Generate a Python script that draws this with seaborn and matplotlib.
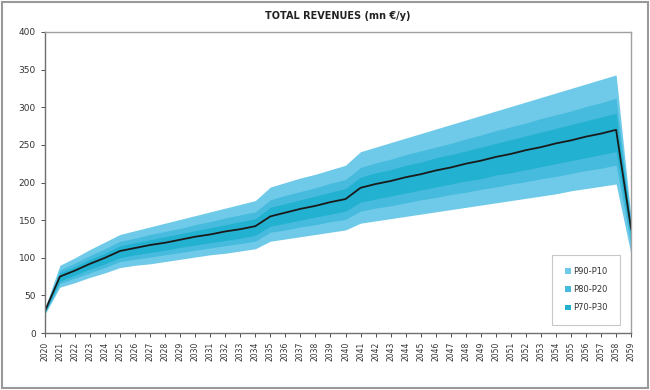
# Total revenues fan chart (P90-P10 / P80-P20 / P70-P30 bands)
import numpy as np
import pandas as pd
import matplotlib.pyplot as plt
import seaborn as sns
from matplotlib.patches import Patch, Rectangle

# ── Data (mn €/y) ─────────────────────────────
years = list(range(2020, 2060))

central = [29, 75, 83, 92, 100, 109, 113, 117, 120, 124,
           128, 131, 135, 138, 142, 155, 160, 165, 169, 174,
           178, 193, 198, 202, 207, 211, 216, 220, 225, 229,
           234, 238, 243, 247, 252, 256, 261, 265, 270, 138]

p90 = [33, 90, 100, 111, 121, 131, 136, 141, 146, 151,
       156, 161, 166, 171, 176, 194, 200, 206, 211, 217,
       223, 241, 247, 253, 259, 265, 271, 277, 283, 289,
       295, 301, 307, 313, 319, 325, 331, 337, 343, 152]
p10 = [25, 61, 67, 74, 80, 87, 90, 92, 95, 98,
       101, 104, 106, 109, 112, 122, 125, 128, 131, 134,
       137, 146, 149, 152, 155, 158, 161, 164, 167, 170,
       173, 176, 179, 182, 185, 189, 192, 195, 198, 104]

p80 = [31, 84, 93, 103, 112, 122, 126, 131, 135, 139,
       144, 148, 153, 157, 161, 177, 183, 188, 193, 199,
       204, 220, 226, 231, 237, 242, 247, 252, 258, 263,
       269, 274, 279, 285, 290, 295, 301, 306, 312, 146]
p20 = [26, 66, 73, 80, 87, 95, 98, 101, 104, 107,
       110, 113, 116, 119, 122, 134, 137, 141, 144, 148,
       151, 162, 166, 169, 173, 177, 180, 184, 187, 191,
       194, 198, 201, 205, 208, 212, 216, 219, 223, 116]

p70 = [30, 80, 88, 98, 106, 116, 120, 124, 128, 132,
       136, 140, 144, 148, 152, 167, 172, 177, 182, 187,
       192, 207, 213, 217, 223, 227, 233, 237, 242, 247,
       252, 257, 262, 267, 272, 277, 282, 287, 292, 142]
p30 = [27, 69, 77, 85, 92, 100, 104, 107, 110, 114,
       117, 120, 123, 126, 130, 142, 146, 150, 154, 158,
       162, 174, 178, 182, 186, 190, 194, 198, 202, 205,
       210, 213, 217, 221, 225, 229, 233, 237, 241, 124]

band_names = ['P90-P10', 'P80-P20', 'P70-P30']
band_colors = ['#6ECAE8', '#47BBDD', '#22B1D0']

df = pd.DataFrame({
    'Year': years, 'Central': central,
    'P90': p90, 'P10': p10, 'P80': p80,
    'P20': p20, 'P70': p70, 'P30': p30,
})

# ── Style ─────────────────────────────────────
sns.set_theme(style='white')
plt.rcParams['font.family'] = ['DejaVu Sans']

fig, ax = plt.subplots(figsize=(6.5, 3.9), dpi=100)
fig.subplots_adjust(left=0.069, right=0.971, bottom=0.146, top=0.918)

# bands, outer first
bands = [('P90', 'P10'), ('P80', 'P20'), ('P70', 'P30')]
for (hi, lo), name, col in zip(bands, band_names, band_colors):
    ax.fill_between(df['Year'], df[lo], df[hi],
                    color=col, linewidth=0, label=name)

sns.lineplot(data=df, x='Year', y='Central', color='#1a1a1a',
             linewidth=1.3, ax=ax, legend=False)

# ── Axes ──────────────────────────────────────
ax.set_xlim(2020, 2059)
ax.set_ylim(0, 400)
ax.set_yticks(range(0, 401, 50))
ax.set_xticks(years)
ax.set_xticklabels([str(y) for y in years], rotation=90, fontsize=5.5)
ax.tick_params(axis='y', labelsize=6.5, length=3, width=0.6,
               direction='out', left=True, colors='#333333')
ax.tick_params(axis='x', length=3, width=0.6, direction='out',
               bottom=True, colors='#333333')
ax.set_xlabel('')
ax.set_ylabel('')
for side in ['left', 'bottom']:
    ax.spines[side].set_color('#707070')
    ax.spines[side].set_linewidth(1.0)
for side in ['top', 'right']:
    ax.spines[side].set_color('#a0a0a0')
    ax.spines[side].set_linewidth(1.0)

ax.set_title('TOTAL REVENUES (mn €/y)', fontsize=7, fontweight='bold',
             pad=9, color='#222222')

handles = [Patch(facecolor=c, edgecolor='none') for c in band_colors]
leg = ax.legend(handles, band_names, loc='lower right',
                bbox_to_anchor=(0.981, 0.027), fontsize=6,
                handlelength=0.7, handleheight=0.7, handletextpad=0.3,
                labelspacing=1.1, borderpad=1.5, frameon=True,
                fancybox=False, borderaxespad=0.0)
leg.get_frame().set_edgecolor('#bbbbbb')
leg.get_frame().set_linewidth(0.8)
for t in leg.get_texts():
    t.set_color('#333333')

# grey border around whole chart area
fig.patches.append(Rectangle((0.003, 0.004), 0.994, 0.992,
                             transform=fig.transFigure, fill=False,
                             edgecolor='#999999', linewidth=1.5))

plt.savefig('out.png', dpi=100)
